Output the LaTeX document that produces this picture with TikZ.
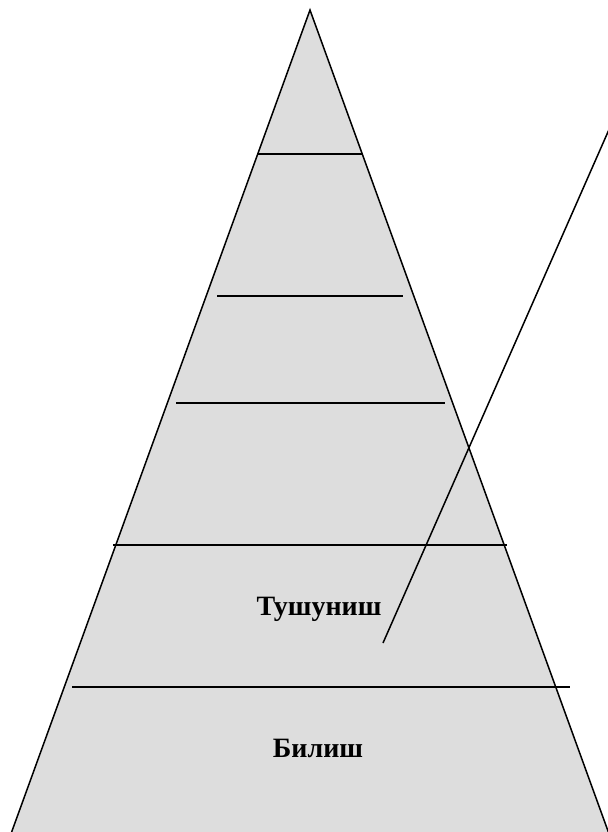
\documentclass[tikz,border=0pt]{standalone}
\usepackage{fontspec}
\setmainfont{Liberation Serif}
\definecolor{LevelFill}{HTML}{DDDDDD}

\begin{document}
\begin{tikzpicture}[x=0.5pt,y=-0.5pt, line width=0.75pt,
  every node/.style={font=\bfseries\fontsize{14}{17}\selectfont, anchor=base}]
  \useasboundingbox (0,0) rectangle (608,832);
  % pyramid
  \draw[fill=LevelFill] (310,10) -- (8,842) -- (612,842) -- cycle;
  % levels
  \draw (258,154) -- (363,154);
  \draw (217,296) -- (403,296);
  \draw (176,403) -- (445,403);
  \draw (113,545) -- (507,545);
  \draw (72,687) -- (570,687);
  % slanted line
  \draw (383,643) -- (611,125);
  \node (tushunish) at (319,615) {Тушуниш};
  \node (bilish) at (318,757) {Билиш};
\end{tikzpicture}
\end{document}
